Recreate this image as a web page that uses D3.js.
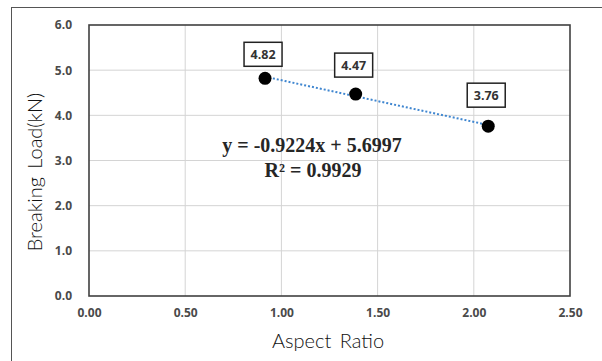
<!DOCTYPE html>
<html>
<head>
<meta charset="utf-8">
<script src="https://cdn.jsdelivr.net/npm/d3@7"></script>
<style>
  body { margin: 0; background: #fff; }
  svg { display: block; }
</style>
</head>
<body>
<script>
// data
var aspectRatio = [0.915, 1.386, 2.075];
var breakingLoad = [4.82, 4.47, 3.76];
var pointLabels = ['4.82', '4.47', '3.76'];
var xTicks = [0, 0.5, 1.0, 1.5, 2.0, 2.5];
var yTicks = [0, 1, 2, 3, 4, 5, 6];
var equationText = 'y = -0.9224x + 5.6997';
var r2Text = 'R\u00b2 = 0.9929';

var W = 602, H = 361;
var margin = { top: 25, right: 32, bottom: 65, left: 89 },
  width = W - margin.left - margin.right,
  height = H - margin.top - margin.bottom;

var x = d3.scaleLinear().domain([0, 2.5]).range([0, width]);
var y = d3.scaleLinear().domain([0, 6]).range([height, 0]);

var svg = d3.select('body').append('svg')
  .attr('width', W)
  .attr('height', H);

// outer frame (runs off the right and bottom edges)
svg.append('rect')
  .attr('x', 11.5).attr('y', 7.5)
  .attr('width', W).attr('height', H)
  .attr('fill', 'none')
  .attr('stroke', '#555')
  .attr('stroke-width', 1);

var g = svg.append('g')
  .attr('transform', 'translate(' + margin.left + ',' + margin.top + ')');

// gridlines
g.selectAll('.vgrid').data(xTicks.slice(1, -1)).enter().append('line')
  .attr('x1', function (d) { return x(d); })
  .attr('x2', function (d) { return x(d); })
  .attr('y1', 0).attr('y2', height)
  .attr('stroke', '#d4d4d4').attr('stroke-width', 1);

g.selectAll('.hgrid').data(yTicks.slice(1, -1)).enter().append('line')
  .attr('y1', function (d) { return y(d); })
  .attr('y2', function (d) { return y(d); })
  .attr('x1', 0).attr('x2', width)
  .attr('stroke', '#d4d4d4').attr('stroke-width', 1);

// plot frame
g.append('rect')
  .attr('width', width).attr('height', height)
  .attr('fill', 'none')
  .attr('stroke', '#404040')
  .attr('stroke-width', 1.6);

// axes (labels only)
var xAxis = d3.axisBottom(x).tickValues(xTicks).tickFormat(d3.format('.2f')).tickSize(0).tickPadding(12);
var yAxis = d3.axisLeft(y).tickValues(yTicks).tickFormat(d3.format('.1f')).tickSize(0).tickPadding(17);

var gx = g.append('g').attr('transform', 'translate(0,' + height + ')').call(xAxis);
var gy = g.append('g').call(yAxis);
[gx, gy].forEach(function (a) {
  a.select('.domain').remove();
  a.selectAll('text')
    .attr('font-family', 'Open Sans, sans-serif')
    .attr('font-size', 12)
    .attr('font-weight', 'bold')
    .attr('fill', '#4a4a4a');
});

// trend line across the data span
var line = d3.line()
  .x(function (d) { return x(d[0]); })
  .y(function (d) { return y(d[1]); });
var trend = [[aspectRatio[0], 5.6997 - 0.9224 * aspectRatio[0]],
  [aspectRatio[2], 5.6997 - 0.9224 * aspectRatio[2]]];
g.append('path')
  .datum(trend)
  .attr('d', line)
  .attr('fill', 'none')
  .attr('stroke', '#3f86d0')
  .attr('stroke-width', 2)
  .attr('stroke-dasharray', '2,2');

// points
var pts = aspectRatio.map(function (a, i) { return { x: a, y: breakingLoad[i], label: pointLabels[i] }; });
g.selectAll('circle').data(pts).enter().append('circle')
  .attr('cx', function (d) { return x(d.x); })
  .attr('cy', function (d) { return y(d.y); })
  .attr('r', 6.5)
  .attr('fill', '#000');

// data labels in boxes
var labelOffset = [24, 29, 31];
var lab = g.selectAll('.lab').data(pts).enter().append('g')
  .attr('transform', function (d, i) {
    return 'translate(' + (x(d.x) - 2) + ',' + (y(d.y) - labelOffset[i]) + ')';
  });
lab.append('rect')
  .attr('x', -19).attr('y', -12)
  .attr('width', 38).attr('height', 24)
  .attr('fill', '#fff')
  .attr('stroke', '#222')
  .attr('stroke-width', 1.5);
lab.append('text')
  .attr('text-anchor', 'middle')
  .attr('dy', '0.36em')
  .attr('font-family', 'Open Sans, sans-serif')
  .attr('font-weight', 'bold')
  .attr('font-size', 12.5)
  .attr('fill', '#333')
  .text(function (d) { return d.label; });

// regression equation
g.append('text')
  .attr('x', 312 - margin.left).attr('y', 152 - margin.top)
  .attr('text-anchor', 'middle')
  .attr('font-family', 'Liberation Serif, serif')
  .attr('font-weight', 'bold')
  .attr('font-size', 20)
  .attr('fill', '#262626')
  .text(equationText);
g.append('text')
  .attr('x', 313 - margin.left).attr('y', 177 - margin.top)
  .attr('text-anchor', 'middle')
  .attr('font-family', 'Liberation Serif, serif')
  .attr('font-weight', 'bold')
  .attr('font-size', 20)
  .attr('fill', '#262626')
  .text(r2Text);

// axis titles
svg.append('text')
  .attr('x', 328).attr('y', 348)
  .attr('text-anchor', 'middle')
  .attr('font-family', 'Lato, sans-serif')
  .attr('font-weight', 300)
  .attr('font-size', 20)
  .attr('word-spacing', 3)
  .attr('fill', '#111')
  .text('Aspect Ratio');

svg.append('text')
  .attr('transform', 'translate(42,172) rotate(-90)')
  .attr('text-anchor', 'middle')
  .attr('font-family', 'Lato, sans-serif')
  .attr('font-weight', 300)
  .attr('font-size', 20)
  .attr('word-spacing', 3)
  .attr('fill', '#111')
  .text('Breaking Load(kN)');
</script>
</body>
</html>
